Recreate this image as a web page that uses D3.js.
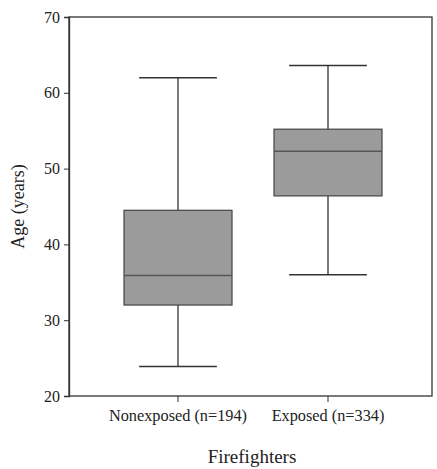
<!DOCTYPE html>
<html>
<head>
<meta charset="utf-8">
<script src="https://cdn.jsdelivr.net/npm/d3@7"></script>
<style>
  body { margin: 0; background: #fff; }
  text { font-family: "Liberation Serif", "Times New Roman", serif; fill: #222; }
</style>
</head>
<body>
<div id="chart"></div>
<script>
    const groups = ["Nonexposed (n=194)", "Exposed (n=334)"];
    const whiskerLow = [23.9, 36.0];
    const q1 = [32.0, 46.4];
    const median = [35.9, 52.3];
    const q3 = [44.5, 55.2];
    const whiskerHigh = [62.0, 63.6];
    const yTicks = [20, 30, 40, 50, 60, 70];

    const width = 437, height = 469;
    const plotLeft = 69, plotRight = 432, plotTop = 17, plotBottom = 396;

    const svg = d3.select("#chart").append("svg")
        .attr("width", width)
        .attr("height", height);

    const y = d3.scaleLinear().domain([20, 70]).range([plotBottom, plotTop]);
    const x = d3.scaleBand().domain(groups).range([82, 424])
        .paddingInner(0.28).paddingOuter(0.28);

    const boxes = groups.map((g, i) => ({
        g, lo: whiskerLow[i], q1: q1[i], med: median[i], q3: q3[i], hi: whiskerHigh[i]
    }));

    // frame
    svg.append("rect")
        .attr("x", plotLeft).attr("y", plotTop)
        .attr("width", plotRight - plotLeft).attr("height", plotBottom - plotTop)
        .attr("fill", "none").attr("stroke", "#333").attr("stroke-width", 1.3);

    // y axis
    const yAxis = svg.append("g")
        .attr("transform", `translate(${plotLeft},0)`)
        .call(d3.axisLeft(y).tickValues(yTicks).tickSize(5).tickPadding(4));
    yAxis.attr("font-family", null).attr("font-size", null);
    yAxis.select(".domain").attr("stroke", "#333").attr("stroke-width", 1.3);
    yAxis.selectAll(".tick line").attr("stroke", "#333");
    yAxis.selectAll("text").attr("font-size", 16).attr("fill", "#222");

    // x axis
    const xAxis = svg.append("g")
        .attr("transform", `translate(0,${plotBottom})`)
        .call(d3.axisBottom(x).tickSize(6).tickPadding(7));
    xAxis.attr("font-family", null).attr("font-size", null);
    xAxis.select(".domain").remove();
    xAxis.selectAll(".tick line").attr("stroke", "#333");
    xAxis.selectAll("text").attr("font-size", 16.3).attr("fill", "#222");

    const capW = x.bandwidth() * 0.72;
    const cx = d => x(d.g) + x.bandwidth() / 2;
    const g = svg.selectAll(".box").data(boxes).enter().append("g").attr("class", "box");

    // whiskers
    g.append("line")
        .attr("x1", cx).attr("x2", cx)
        .attr("y1", d => y(d.hi)).attr("y2", d => y(d.q3))
        .attr("stroke", "#333").attr("stroke-width", 1.3);
    g.append("line")
        .attr("x1", cx).attr("x2", cx)
        .attr("y1", d => y(d.q1)).attr("y2", d => y(d.lo))
        .attr("stroke", "#333").attr("stroke-width", 1.3);
    // caps
    g.append("line")
        .attr("x1", d => cx(d) - capW / 2).attr("x2", d => cx(d) + capW / 2)
        .attr("y1", d => y(d.hi)).attr("y2", d => y(d.hi))
        .attr("stroke", "#333").attr("stroke-width", 1.5);
    g.append("line")
        .attr("x1", d => cx(d) - capW / 2).attr("x2", d => cx(d) + capW / 2)
        .attr("y1", d => y(d.lo)).attr("y2", d => y(d.lo))
        .attr("stroke", "#333").attr("stroke-width", 1.5);
    // boxes
    g.append("rect")
        .attr("x", d => x(d.g)).attr("width", x.bandwidth())
        .attr("y", d => y(d.q3)).attr("height", d => y(d.q1) - y(d.q3))
        .attr("fill", "#9b9b9b").attr("stroke", "#444").attr("stroke-width", 1.2);
    // median
    g.append("line")
        .attr("x1", d => x(d.g)).attr("x2", d => x(d.g) + x.bandwidth())
        .attr("y1", d => y(d.med)).attr("y2", d => y(d.med))
        .attr("stroke", "#555").attr("stroke-width", 1.5);

    // axis titles
    svg.append("text")
        .attr("transform", `translate(24,${(plotTop + plotBottom) / 2}) rotate(-90)`)
        .attr("text-anchor", "middle")
        .attr("font-size", 18)
        .text("Age (years)");
    svg.append("text")
        .attr("x", 252).attr("y", 463)
        .attr("text-anchor", "middle")
        .attr("font-size", 19)
        .text("Firefighters");
</script>
</body>
</html>
